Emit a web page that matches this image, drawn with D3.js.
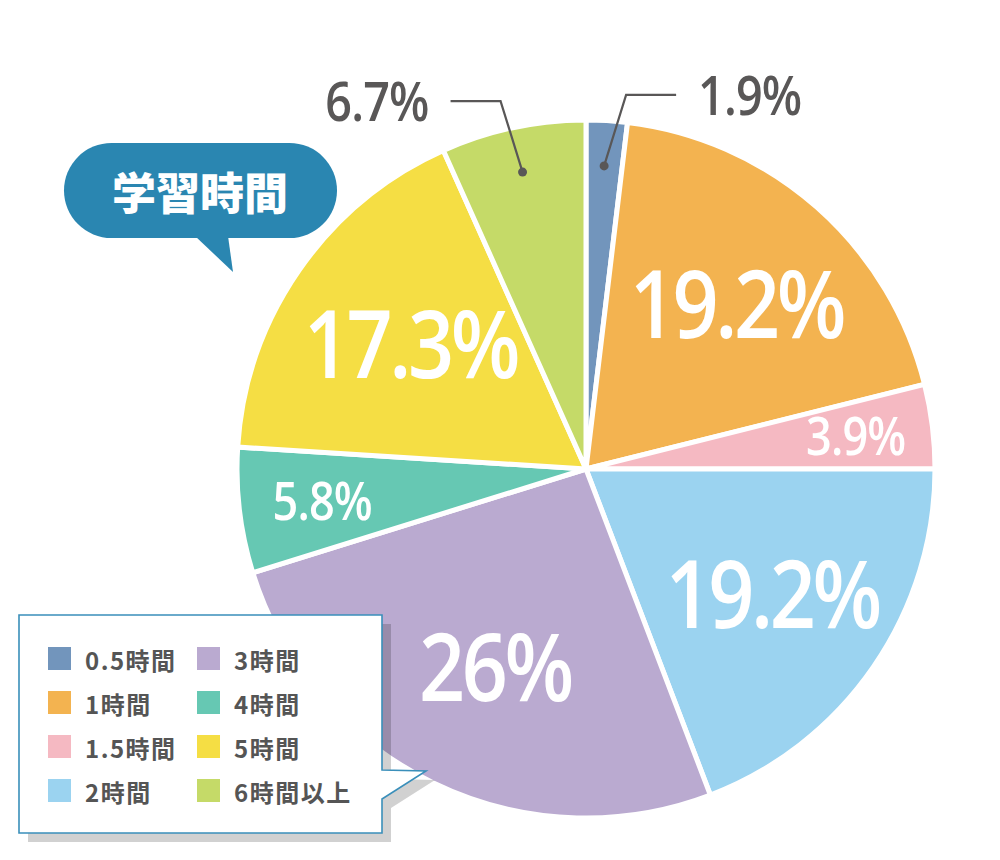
<!DOCTYPE html>
<html>
<head>
<meta charset="utf-8">
<script src="https://cdn.jsdelivr.net/npm/d3@7"></script>
<style>
  body { margin: 0; background: #fff; }
  svg { display: block; }
</style>
</head>
<body>
<div class="svg-canvas"></div>
<script>
// study time pie
var categories = ["0.5時間", "1時間", "1.5時間", "2時間", "3時間", "4時間", "5時間", "6時間以上"];
var values = [1.9, 19.2, 3.9, 19.2, 26, 5.8, 17.3, 6.7];
var valueLabels = ["1.9%", "19.2%", "3.9%", "19.2%", "26%", "5.8%", "17.3%", "6.7%"];
var colors = ["#7295bc", "#f3b350", "#f5b9c2", "#9bd3f0", "#baaad0", "#66c8b3", "#f5de44", "#c5da68"];
var title = "学習時間";

var W = 1000, H = 860;
var cx = 586, cy = 469, R = 349;
var outside = [0, 7]; // labels drawn outside with a leader
var squeeze = 0.85;   // numbers are set a bit narrow

var svg = d3.select(".svg-canvas").append("svg")
    .attr("width", W)
    .attr("height", H);

var pie = d3.pie().sort(null).value(function(d){ return d; });
var arcs = pie(values);
var arc = d3.arc().innerRadius(0).outerRadius(R);

var g = svg.append("g").attr("transform", "translate(" + cx + "," + cy + ")");

g.selectAll("path.slice")
    .data(arcs)
    .enter()
    .append("path")
    .attr("class", "slice")
    .attr("d", arc)
    .attr("fill", function(d, i){ return colors[i]; })
    .attr("stroke", "#fff")
    .attr("stroke-width", 5)
    .attr("stroke-linejoin", "miter");

// inside labels
function big(d){ return d.value >= 10; }
function labelPos(d){
    var r = big(d) ? 0.63 * R : 0.77 * R;
    return d3.arc().innerRadius(r).outerRadius(r).centroid(d);
}
var inside = arcs.filter(function(d, i){ return outside.indexOf(i) < 0; });
g.selectAll("text.in")
    .data(inside)
    .enter()
    .append("text")
    .attr("class", "in")
    .attr("text-anchor", "middle")
    .attr("fill", "#fff")
    .style("font-family", "'Open Sans', sans-serif")
    .style("font-weight", 600)
    .style("font-size", function(d){ return big(d) ? "95px" : "53px"; })
    .style("letter-spacing", function(d){ return big(d) ? "-4px" : "-1px"; })
    .attr("transform", function(d){
	var p = labelPos(d);
	var x = p[0] + (big(d) ? 5 : 3);
	var y = p[1] + (big(d) ? 95 : 53) * 0.36;
	return "translate(" + x + "," + y + ") scale(" + squeeze + ",1)";
    })
    .text(function(d){ return valueLabels[d.index]; });

// outside labels with leader lines
var outs = arcs.filter(function(d, i){ return outside.indexOf(i) >= 0; });
var dotArc = d3.arc().innerRadius(0.87 * R).outerRadius(0.87 * R);
outs.forEach(function(d){
    var p = dotArc.centroid(d);
    var mid = (d.startAngle + d.endAngle) / 2;
    var side = Math.sin(mid) >= 0 ? 1 : -1;
    var elbow = [p[0] + side * 22, p[1] - 71];
    var end = [elbow[0] + side * 50, elbow[1]];
    g.append("path")
	.attr("d", d3.line()([p, elbow, end]))
	.attr("fill", "none")
	.attr("stroke", "#595757")
	.attr("stroke-width", 2.2);
    g.append("circle")
	.attr("cx", p[0]).attr("cy", p[1]).attr("r", 4.5)
	.attr("fill", "#595757");
    g.append("text")
	.attr("transform", "translate(" + (end[0] + side * 22) + "," + (end[1] + 55 * 0.36) + ") scale(" + squeeze + ",1)")
	.attr("text-anchor", side > 0 ? "start" : "end")
	.attr("fill", "#595757")
	.style("font-family", "'Open Sans', sans-serif")
	.style("font-weight", 600)
	.style("font-size", "55px")
	.style("letter-spacing", "-1px")
	.text(valueLabels[d.index]);
});

// title bubble
var bub = svg.append("g");
bub.append("rect")
    .attr("x", 64).attr("y", 143)
    .attr("width", 273).attr("height", 95)
    .attr("rx", 47.5)
    .attr("fill", "#2a86b1");
bub.append("path")
    .attr("d", "M195,236 L228,236 L233,272 Z")
    .attr("fill", "#2a86b1");
bub.append("text")
    .attr("x", 200).attr("y", 191)
    .attr("text-anchor", "middle")
    .attr("dominant-baseline", "central")
    .attr("fill", "#fff")
    .style("font-family", "'Noto Sans CJK JP', sans-serif")
    .style("font-weight", 900)
    .style("font-size", "44px")
    .text(title);

// legend box with pointer + shadow
var lg = {x: 19, y: 615, w: 363, h: 218};
function boxPath(dx, dy){
    var x0 = lg.x + dx, y0 = lg.y + dy, x1 = lg.x + lg.w + dx, y1 = lg.y + lg.h + dy;
    return "M" + x0 + "," + y0 + " L" + x1 + "," + y0 +
	" L" + x1 + "," + (y0 + 155) + " L" + (x1 + 44) + "," + (y0 + 156) +
	" L" + x1 + "," + (y0 + 184) + " L" + x1 + "," + y1 +
	" L" + x0 + "," + y1 + " Z";
}
svg.append("path")
    .attr("d", boxPath(9, 9))
    .attr("fill", "#000")
    .attr("fill-opacity", 0.18);
svg.append("path")
    .attr("d", boxPath(0, 0))
    .attr("fill", "#fff")
    .attr("stroke", "#3a8fba")
    .attr("stroke-width", 1.6);

var items = svg.selectAll("g.item")
    .data(categories)
    .enter()
    .append("g")
    .attr("class", "item")
    .attr("transform", function(d, i){
	var col = Math.floor(i / 4), row = i % 4;
	return "translate(" + (48 + col * 149) + "," + (647 + row * 44) + ")";
    });
items.append("rect")
    .attr("width", 23).attr("height", 23)
    .attr("fill", function(d, i){ return colors[i]; });
items.append("text")
    .attr("x", 37).attr("y", 12)
    .attr("dominant-baseline", "central")
    .attr("fill", "#555")
    .style("font-family", "'Noto Sans CJK JP', sans-serif")
    .style("font-weight", 700)
    .style("font-size", "24px")
    .style("letter-spacing", "1.5px")
    .text(function(d){ return d; });
</script>
</body>
</html>
